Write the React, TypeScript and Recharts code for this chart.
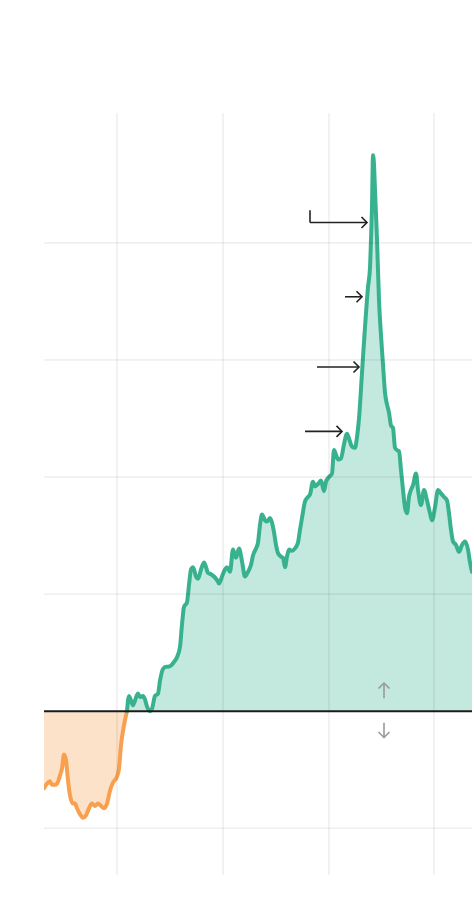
import React from 'react';
import { ComposedChart, Area, XAxis, YAxis, ReferenceLine } from 'recharts';

// Time position (days from start) and value (%)
const positions = [
  0, 3, 6, 8, 11, 13, 16, 18, 20, 22, 24, 26, 29, 31, 33, 36, 39, 42, 45, 48,
  51, 54, 57, 60, 63, 66, 69, 73, 75, 77, 80, 83,
  85, 89, 91, 94, 96, 99, 101, 103, 106, 108, 111, 114, 116, 119, 122, 124, 127, 130,
  133, 136, 138, 140, 143, 145, 147, 149, 152, 154, 157, 160, 162, 164, 167, 170, 173, 175,
  178, 181, 183, 186, 189, 192, 195, 198, 201, 204, 207, 209, 212, 214, 216, 218, 221, 223,
  226, 228, 230, 232, 234, 237, 239, 241, 243, 245, 248, 251, 254, 256, 258, 261, 264, 266,
  269, 271, 274, 277, 280, 282, 285, 288, 290, 292, 294, 297, 300, 303, 305, 308, 311, 313,
  315, 318, 321, 324, 326, 327, 328, 329, 330, 331, 333, 335, 337, 339, 341, 343, 345, 347,
  349, 351, 353, 355, 357, 359, 361, 363, 365, 367, 369, 372, 374, 377, 380, 383, 386, 388,
  391, 394, 397, 400, 403, 405, 407, 409, 412, 415, 418, 421, 424, 426, 428,
];

const values = [
  -6.6, -6.2, -6.0, -6.3, -6.3, -6.2, -5.5, -4.9, -3.7, -4.2, -5.9, -7.2, -7.9, -7.9, -8.3, -8.8, -9.1, -8.9, -8.3, -7.9,
  -8.1, -7.9, -8.1, -8.3, -7.9, -6.8, -6.1, -5.6, -4.9, -2.9, -1.2, 0,
  1.3, 0.5, 0.9, 1.5, 1.2, 1.3, 1.0, 0.4, 0.0, 0.2, 1.3, 1.5, 2.6, 3.6, 3.8, 3.8, 3.9, 4.2,
  4.6, 5.5, 7.4, 8.9, 9.3, 10.8, 12.1, 12.3, 11.5, 11.3, 12.1, 12.7, 12.3, 11.8, 11.7, 11.5, 11.2, 10.9,
  11.5, 12.1, 12.3, 11.9, 13.8, 13.1, 13.9, 12.8, 11.5, 11.9, 12.5, 13.3, 13.9, 14.4, 15.9, 16.8, 16.3, 16.2,
  16.5, 16.1, 15.3, 14.2, 13.5, 13.2, 13.1, 12.3, 13.2, 13.8, 13.7, 13.9, 14.4, 15.5, 16.5, 17.9, 18.3, 18.5,
  19.6, 19.2, 19.4, 19.7, 18.8, 19.6, 20.0, 20.3, 22.3, 21.9, 21.5, 21.6, 22.8, 23.7, 23.3, 22.6, 22.5, 23.4,
  25.0, 28.9, 32.8, 36.2, 37.9, 40.3, 43.1, 47.5, 46.7, 44.5, 40.3, 35.1, 32.1, 29.6, 27.2, 26.2, 25.5, 24.4,
  24.2, 22.5, 22.3, 22.2, 20.6, 18.9, 17.4, 16.9, 18.3, 18.9, 19.3, 20.3, 18.9, 17.6, 18.9, 18.0, 16.9, 16.3,
  17.4, 18.9, 18.6, 18.3, 18.0, 16.9, 15.5, 14.5, 14.2, 13.6, 14.2, 14.5, 13.8, 12.7, 11.9,
];

const xTicks = [73, 179, 285, 390];
const yTicks = [-10, 10, 20, 30, 40];

// Annotation arrows in data units: [xStart, yStart, xEnd, yEnd]
const calloutStems = [[266, 42.8, 266, 41.75]];
const calloutArrows = [
  [266, 41.75, 323, 41.75],
  [301, 35.4, 318, 35.4],
  [273, 29.4, 315, 29.4],
  [261, 23.9, 298, 23.9],
];
const directionArrows = [
  [340, 1.1, 340, 2.4],
  [340, -1.0, 340, -2.25],
];

const splitIndex = values.findIndex((v) => v >= 0);
const data = positions.map((x, i) => ({
  x,
  neg: i <= splitIndex ? values[i] : null,
  pos: i >= splitIndex ? values[i] : null,
}));

const GREEN = '#38b28e';
const ORANGE = '#f9a04f';
const GRID = 'rgba(0,0,0,0.1)';

const makeArrow = (color: string, head: boolean) => (props: any) => {
  const { x1, y1, x2, y2 } = props;
  const ang = Math.atan2(y2 - y1, x2 - x1);
  const back = 5.5;
  const half = 5.5;
  const bx = x2 - back * Math.cos(ang);
  const by = y2 - back * Math.sin(ang);
  const px = -Math.sin(ang) * half;
  const py = Math.cos(ang) * half;
  return (
    <g>
      <line x1={x1} y1={y1} x2={x2} y2={y2} stroke={color} strokeWidth={1.6} />
      {head && (
        <polyline
          points={`${bx + px},${by + py} ${x2},${y2} ${bx - px},${by - py}`}
          fill="none"
          stroke={color}
          strokeWidth={1.6}
        />
      )}
    </g>
  );
};

export default function App() {
  return (
    <div style={{ position: 'absolute', left: 0, top: 0, background: '#fff' }}>
      <ComposedChart
        width={474}
        height={902}
        data={data}
        margin={{ top: 113, right: 2, bottom: 27, left: 44 }}
      >
        <XAxis
          dataKey="x"
          type="number"
          domain={[0, 428]}
          ticks={xTicks}
          allowDataOverflow
          hide
        />
        <YAxis
          type="number"
          domain={[-14, 51.1]}
          ticks={yTicks}
          allowDataOverflow
          hide
        />
        {yTicks.map((t) => (
          <ReferenceLine key={`gy${t}`} y={t} stroke={GRID} strokeWidth={1} />
        ))}
        {xTicks.map((t) => (
          <ReferenceLine key={`gx${t}`} x={t} stroke={GRID} strokeWidth={1} />
        ))}
        <Area
          dataKey="neg"
          type="monotone"
          stroke={ORANGE}
          strokeWidth={4}
          fill={ORANGE}
          fillOpacity={0.3}
          baseValue={0}
          strokeLinecap="round"
          strokeLinejoin="round"
          isAnimationActive={false}
          dot={false}
          activeDot={false}
        />
        <Area
          dataKey="pos"
          type="monotone"
          stroke={GREEN}
          strokeWidth={4}
          fill={GREEN}
          fillOpacity={0.3}
          baseValue={0}
          strokeLinecap="round"
          strokeLinejoin="round"
          isAnimationActive={false}
          dot={false}
          activeDot={false}
        />
        <ReferenceLine y={0} stroke="#1a1a1a" strokeWidth={2} />
        {calloutStems.map((s, i) => (
          <ReferenceLine
            key={`s${i}`}
            segment={[{ x: s[0], y: s[1] }, { x: s[2], y: s[3] }]}
            shape={makeArrow('#222', false)}
          />
        ))}
        {calloutArrows.map((s, i) => (
          <ReferenceLine
            key={`a${i}`}
            segment={[{ x: s[0], y: s[1] }, { x: s[2], y: s[3] }]}
            shape={makeArrow('#222', true)}
          />
        ))}
        {directionArrows.map((s, i) => (
          <ReferenceLine
            key={`d${i}`}
            segment={[{ x: s[0], y: s[1] }, { x: s[2], y: s[3] }]}
            shape={makeArrow('#999', true)}
          />
        ))}
      </ComposedChart>
    </div>
  );
}
